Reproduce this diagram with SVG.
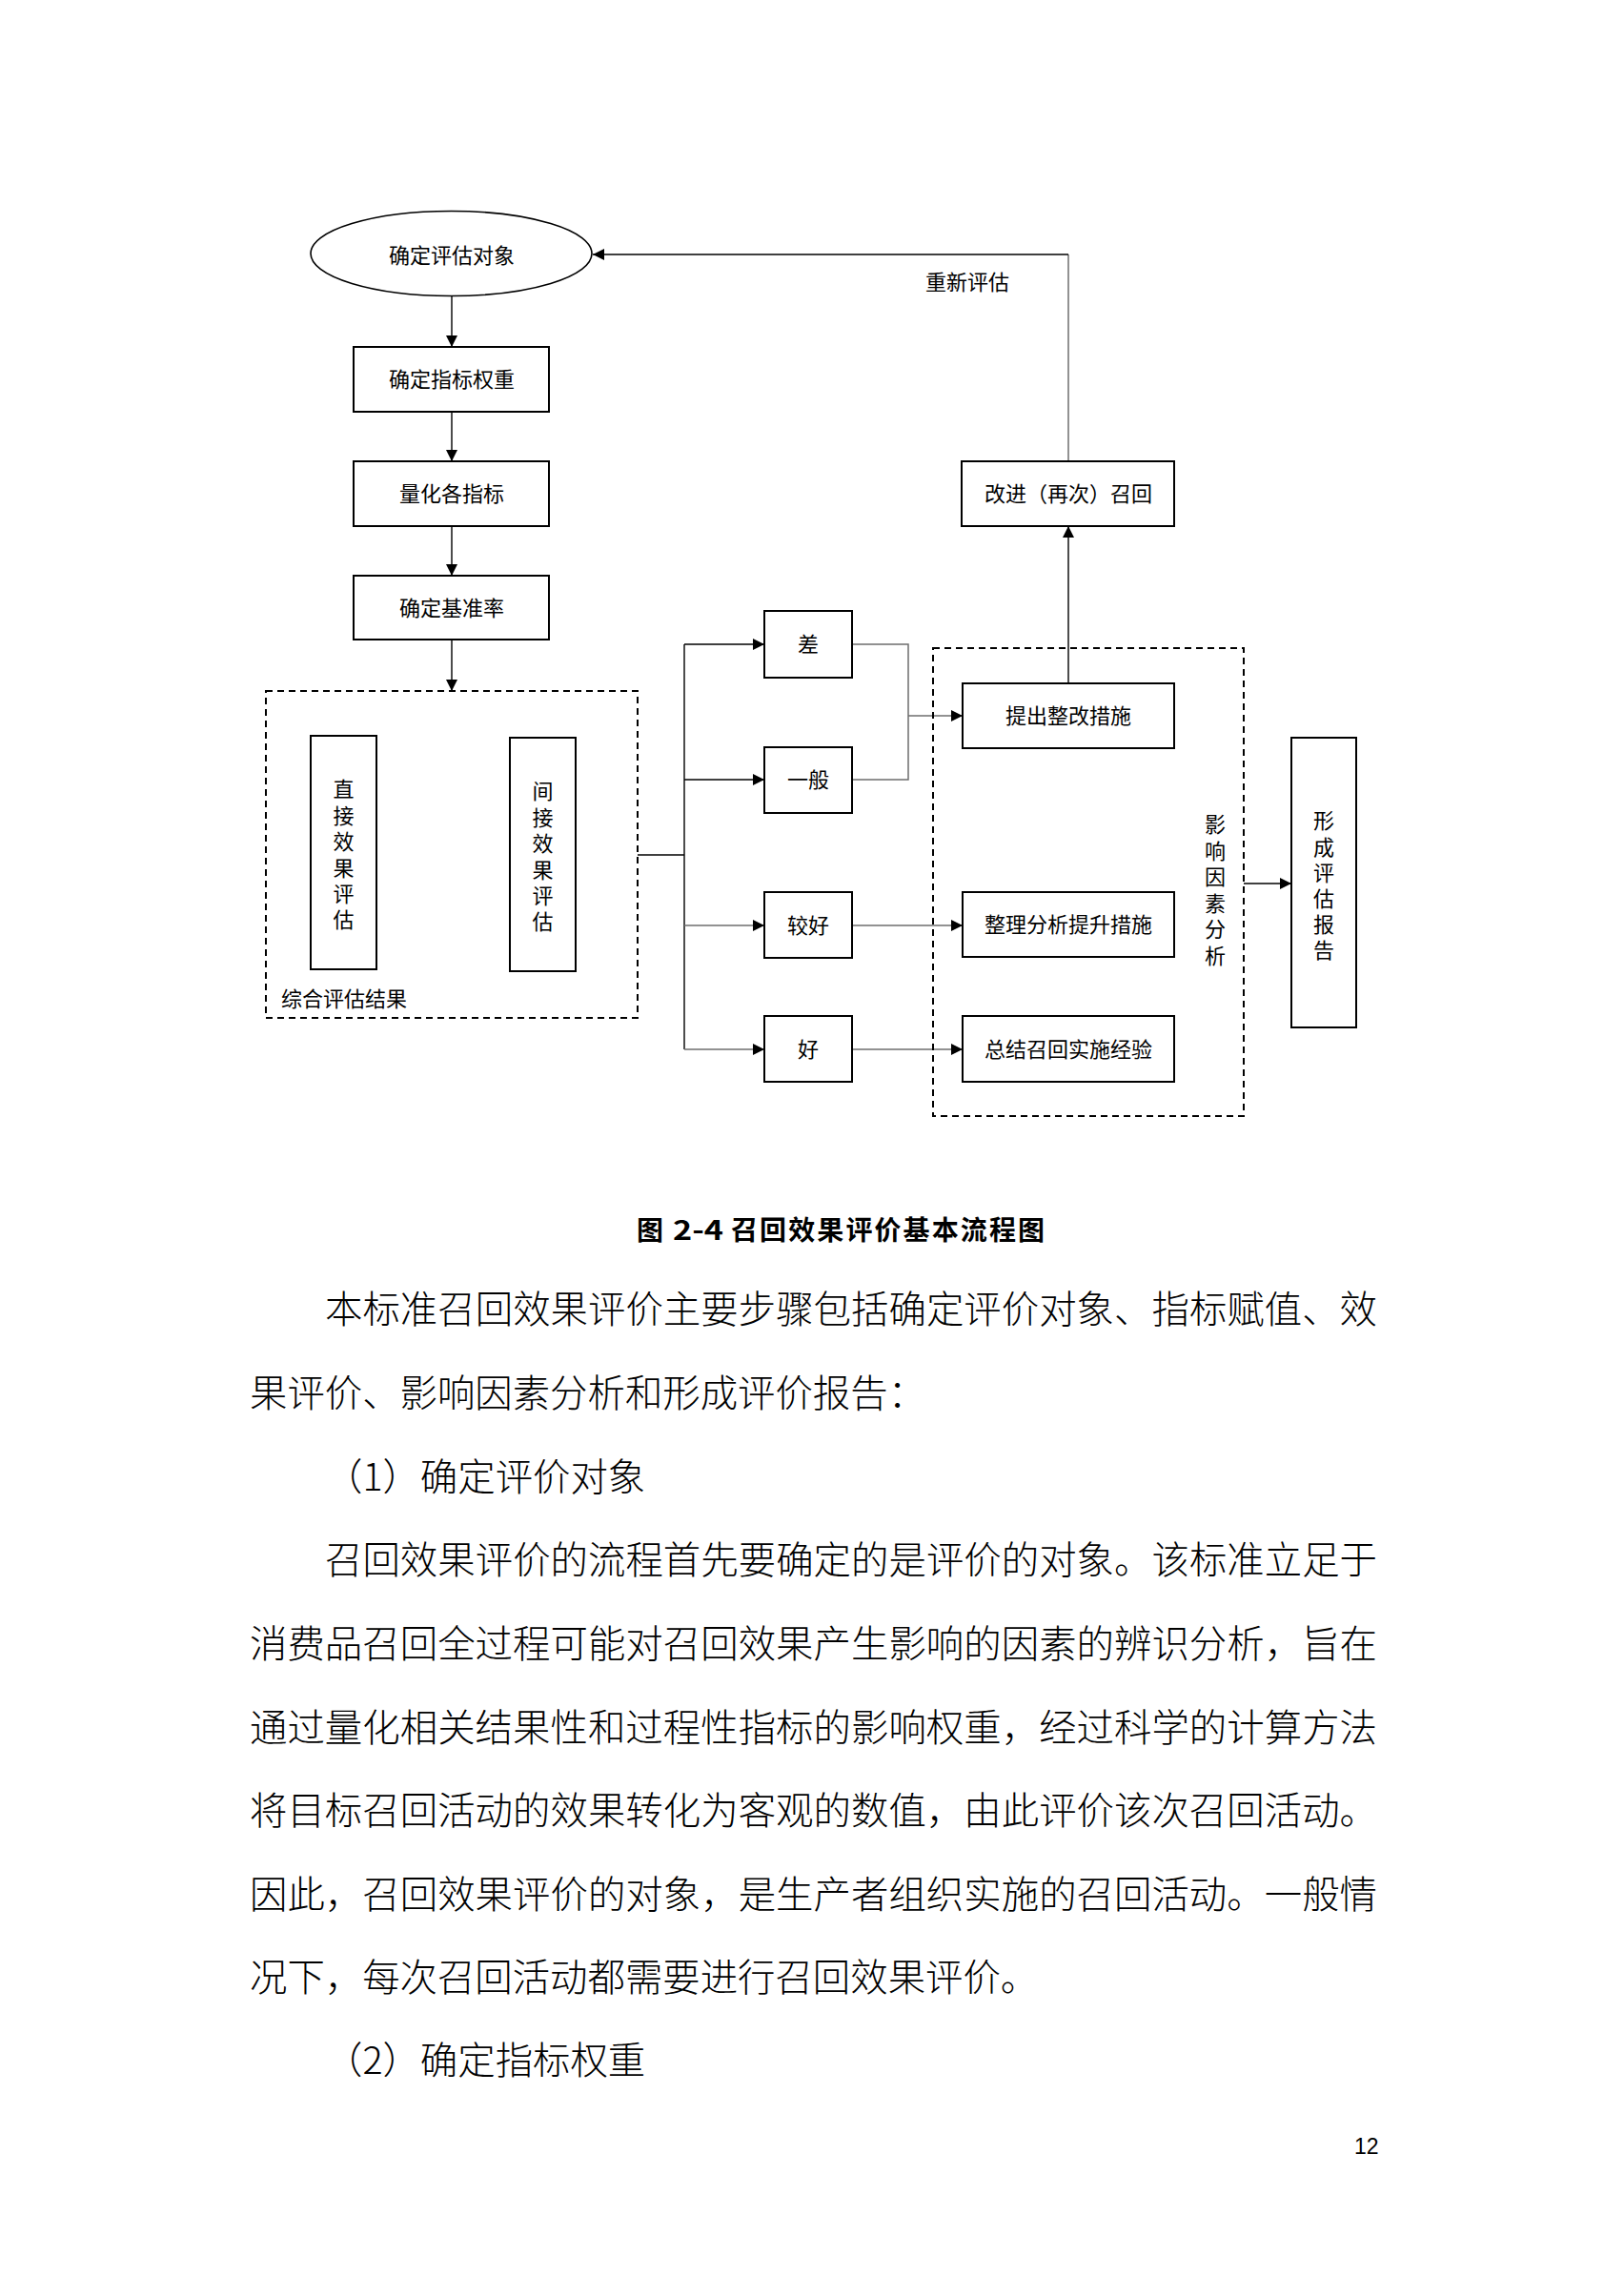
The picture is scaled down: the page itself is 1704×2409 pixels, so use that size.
<svg xmlns="http://www.w3.org/2000/svg" width="1704" height="2409" viewBox="0 0 1704 2409">
<style>
.bg{fill:#fff}
.box{fill:#fff;stroke:#000;stroke-width:2}
.ell{fill:#fff;stroke:#000;stroke-width:1.6}
.dash{fill:none;stroke:#000;stroke-width:2;stroke-dasharray:7 5}
.c{fill:none;stroke:#000;stroke-width:1.4}
.g{fill:none;stroke:#6e6e6e;stroke-width:1.5}
.t{font-family:"Noto Sans CJK SC","Noto Sans CJK JP",sans-serif;font-size:22px;fill:#000;text-anchor:middle}
.tl{font-family:"Noto Sans CJK SC","Noto Sans CJK JP",sans-serif;font-size:22px;fill:#000}
.cap{font-family:"Noto Sans CJK SC","Noto Sans CJK JP",sans-serif;font-size:28px;font-weight:bold;fill:#000}
.body{font-family:"Noto Sans CJK SC","Noto Sans CJK JP",sans-serif;font-size:39.4px;font-weight:300;fill:#000}
.pn{font-family:"Liberation Sans",Arial,sans-serif;font-size:23px;fill:#000}
</style>
<defs>
<marker id="ah" markerUnits="userSpaceOnUse" markerWidth="12" markerHeight="12" refX="12" refY="6" orient="auto">
<path d="M0,0 L12,6 L0,12 z" fill="#000"/>
</marker>
</defs>
<rect class="bg" x="0" y="0" width="1704" height="2409"/>

<g id="connectors">
<line class="c" x1="474" y1="311" x2="474" y2="364" marker-end="url(#ah)"/>
<line class="c" x1="474" y1="432" x2="474" y2="484" marker-end="url(#ah)"/>
<line class="c" x1="474" y1="552" x2="474" y2="604" marker-end="url(#ah)"/>
<line class="c" x1="474" y1="671" x2="474" y2="725" marker-end="url(#ah)"/>
<polyline class="c" points="669,897 718,897"/>
<line class="c" x1="718" y1="676" x2="718" y2="1101"/>
<line class="c" x1="718" y1="676" x2="802" y2="676" marker-end="url(#ah)"/>
<line class="c" x1="718" y1="818" x2="802" y2="818" marker-end="url(#ah)"/>
<line class="g" x1="718" y1="971" x2="802" y2="971" marker-end="url(#ah)"/>
<line class="g" x1="718" y1="1101" x2="802" y2="1101" marker-end="url(#ah)"/>
<polyline class="g" points="894,676 953,676 953,818 894,818"/>
<line class="g" x1="953" y1="751" x2="1010" y2="751" marker-end="url(#ah)"/>
<line class="g" x1="894" y1="971" x2="1010" y2="971" marker-end="url(#ah)"/>
<line class="g" x1="894" y1="1101" x2="1010" y2="1101" marker-end="url(#ah)"/>
<line class="c" x1="1121" y1="717" x2="1121" y2="552" marker-end="url(#ah)"/>
<line class="g" x1="1121" y1="484" x2="1121" y2="267"/>
<line class="c" x1="1121" y1="267" x2="622" y2="267" marker-end="url(#ah)"/>
<line class="c" x1="1305" y1="927" x2="1355" y2="927" marker-end="url(#ah)"/>
<text class="t" x="1015" y="304">重新评估</text>
</g>

<g id="n-start">
<ellipse class="ell" cx="473.5" cy="266" rx="147.5" ry="44.5"/>
<text class="t" x="474" y="276">确定评估对象</text>
</g>
<g id="n-weight">
<rect class="box" x="371" y="364" width="205" height="68"/>
<text class="t" x="474" y="406">确定指标权重</text>
</g>
<g id="n-quant">
<rect class="box" x="371" y="484" width="205" height="68"/>
<text class="t" x="474" y="526">量化各指标</text>
</g>
<g id="n-base">
<rect class="box" x="371" y="604" width="205" height="67"/>
<text class="t" x="474" y="646">确定基准率</text>
</g>

<g id="n-result">
<rect class="dash" x="279" y="725" width="390" height="343"/>
<text class="tl" x="295" y="1056">综合评估结果</text>
</g>
<g id="n-direct">
<rect class="box" x="326" y="772" width="69" height="245"/>
<text class="t" x="360.5" y="836.4"><tspan x="360.5">直</tspan><tspan x="360.5" dy="27.4">接</tspan><tspan x="360.5" dy="27.4">效</tspan><tspan x="360.5" dy="27.4">果</tspan><tspan x="360.5" dy="27.4">评</tspan><tspan x="360.5" dy="27.4">估</tspan></text>
</g>
<g id="n-indirect">
<rect class="box" x="535" y="774" width="69" height="245"/>
<text class="t" x="569.5" y="838.4"><tspan x="569.5">间</tspan><tspan x="569.5" dy="27.4">接</tspan><tspan x="569.5" dy="27.4">效</tspan><tspan x="569.5" dy="27.4">果</tspan><tspan x="569.5" dy="27.4">评</tspan><tspan x="569.5" dy="27.4">估</tspan></text>
</g>

<g id="n-poor">
<rect class="box" x="802" y="641" width="92" height="70"/>
<text class="t" x="848" y="684">差</text>
</g>
<g id="n-fair">
<rect class="box" x="802" y="784" width="92" height="69"/>
<text class="t" x="848" y="826">一般</text>
</g>
<g id="n-good">
<rect class="box" x="802" y="936" width="92" height="69"/>
<text class="t" x="848" y="979">较好</text>
</g>
<g id="n-best">
<rect class="box" x="802" y="1066" width="92" height="69"/>
<text class="t" x="848" y="1109">好</text>
</g>

<g id="n-factor">
<rect class="dash" x="979" y="680" width="326" height="491"/>
<text class="t" x="1275" y="873.4"><tspan x="1275">影</tspan><tspan x="1275" dy="27.5">响</tspan><tspan x="1275" dy="27.5">因</tspan><tspan x="1275" dy="27.5">素</tspan><tspan x="1275" dy="27.5">分</tspan><tspan x="1275" dy="27.5">析</tspan></text>
</g>
<g id="n-rectify">
<rect class="box" x="1010" y="717" width="222" height="68"/>
<text class="t" x="1121" y="759">提出整改措施</text>
</g>
<g id="n-improve">
<rect class="box" x="1010" y="936" width="222" height="68"/>
<text class="t" x="1121" y="978">整理分析提升措施</text>
</g>
<g id="n-summary">
<rect class="box" x="1010" y="1066" width="222" height="69"/>
<text class="t" x="1121" y="1109">总结召回实施经验</text>
</g>
<g id="n-recall">
<rect class="box" x="1009" y="484" width="223" height="68"/>
<text class="t" x="1121" y="526">改进（再次）召回</text>
</g>
<g id="n-report">
<rect class="box" x="1355" y="774" width="68" height="304"/>
<text class="t" x="1389" y="869.4"><tspan x="1389">形</tspan><tspan x="1389" dy="27.2">成</tspan><tspan x="1389" dy="27.2">评</tspan><tspan x="1389" dy="27.2">估</tspan><tspan x="1389" dy="27.2">报</tspan><tspan x="1389" dy="27.2">告</tspan></text>
</g>

<g id="caption">
<text class="cap" y="1301"><tspan x="668">图</tspan><tspan x="706" textLength="53" lengthAdjust="spacingAndGlyphs">2-4</tspan><tspan x="767" textLength="329">召回效果评价基本流程图</tspan></text>
</g>

<g id="body">
<text class="body" x="341" y="1388" textLength="1104">本标准召回效果评价主要步骤包括确定评价对象、指标赋值、效</text>
<text class="body" x="262" y="1476">果评价、影响因素分析和形成评价报告：</text>
<text class="body" x="341" y="1564">（1）确定评价对象</text>
<text class="body" x="341" y="1651" textLength="1104">召回效果评价的流程首先要确定的是评价的对象。该标准立足于</text>
<text class="body" x="262" y="1739" textLength="1183">消费品召回全过程可能对召回效果产生影响的因素的辨识分析，旨在</text>
<text class="body" x="262" y="1827" textLength="1183">通过量化相关结果性和过程性指标的影响权重，经过科学的计算方法</text>
<text class="body" x="262" y="1914" textLength="1183">将目标召回活动的效果转化为客观的数值，由此评价该次召回活动。</text>
<text class="body" x="262" y="2002" textLength="1183">因此，召回效果评价的对象，是生产者组织实施的召回活动。一般情</text>
<text class="body" x="262" y="2089">况下，每次召回活动都需要进行召回效果评价。</text>
<text class="body" x="341" y="2176">（2）确定指标权重</text>
<text class="pn" x="1421" y="2260">12</text>
</g>
</svg>
